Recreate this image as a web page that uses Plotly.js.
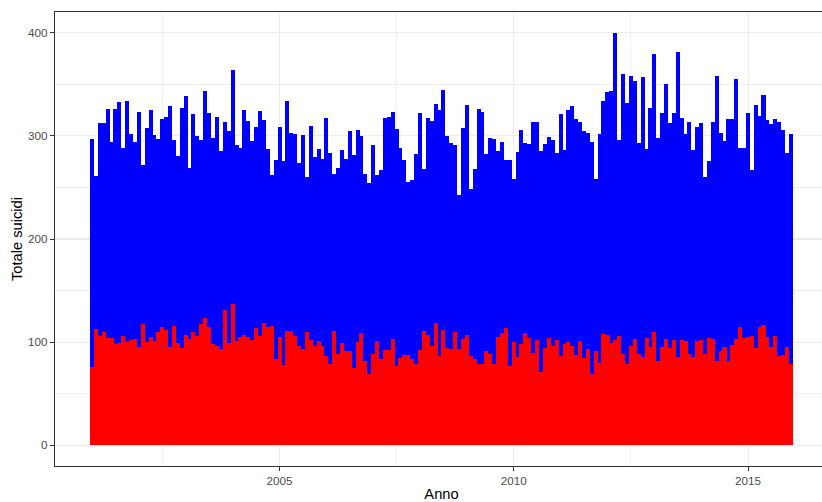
<!DOCTYPE html>
<html>
<head>
<meta charset="utf-8">
<script src="https://cdn.plot.ly/plotly-3.0.1.min.js"></script>
<style>
html,body{margin:0;padding:0;overflow:hidden;background:#fff;}
#chart{width:828px;height:502px;}
</style>
</head>
<body>
<div id="chart"></div>
<script>
// Monthly data, January 2001 .. December 2015
var startYear = 2001;
var endYear = 2015;

// Totale suicidi (blue)
var totale = [
297,261,312,312,326,294,326,333,288,334,302,294,
323,272,308,325,301,297,316,318,329,296,280,327,
339,269,321,300,296,343,322,298,318,285,313,305,
364,291,288,325,314,295,309,324,315,287,262,277,
309,276,334,303,302,274,301,260,310,279,287,278,
317,283,263,269,286,278,305,281,306,300,263,254,
291,262,267,317,318,323,307,288,277,255,257,282,
322,268,317,314,331,325,344,300,293,291,243,308,
330,248,268,326,323,282,298,297,285,294,277,277,
258,284,306,293,292,313,313,285,292,299,296,283,
321,286,325,329,316,313,305,303,294,258,302,334,
342,343,400,296,360,332,358,353,293,357,287,327,
379,298,322,350,312,322,381,317,302,313,286,309,
312,260,276,313,358,303,295,316,316,355,288,288,
322,267,330,319,340,315,311,316,313,306,283,302
];

// Subset (red)
var parziale = [
76,113,106,110,104,104,98,99,106,100,102,103,
95,118,100,105,101,110,115,112,95,116,99,94,
107,103,110,106,118,123,115,98,96,93,131,99,
137,101,105,107,105,102,114,106,119,115,116,84,
105,78,111,111,106,96,93,110,102,96,101,96,
87,79,111,89,99,91,91,75,100,109,82,69,
89,101,84,92,92,103,77,85,88,88,84,79,
92,111,107,96,119,87,112,94,93,110,93,103,
107,87,84,79,79,91,89,79,105,109,114,77,
100,86,98,109,104,90,102,71,94,104,96,102,
87,98,100,96,88,101,85,93,69,91,80,108,
107,99,102,106,89,79,96,103,89,86,104,95,
110,82,95,103,94,102,86,102,101,89,86,101,
102,89,104,103,82,91,95,82,97,103,115,104,
105,106,94,115,117,105,95,106,87,88,95,79
];

var mesi = [];
for (var y = startYear; y <= endYear; y++) {
  for (var m = 1; m <= 12; m++) {
    mesi.push(y + '-' + (m < 10 ? '0' + m : m) + '-01');
  }
}

var barMs = 31.6 * 24 * 3600 * 1000;
var font = "'Liberation Sans', Arial, Helvetica, sans-serif";

var traces = [
  {type: 'bar', x: mesi, y: totale, width: barMs,
   marker: {color: '#0000FF', line: {width: 0}}, name: 'Totale', hoverinfo: 'x+y'},
  {type: 'bar', x: mesi, y: parziale, width: barMs,
   marker: {color: '#FF0000', line: {width: 0}}, name: 'Parziale', hoverinfo: 'x+y'}
];

var layout = {
  width: 828, height: 502,
  margin: {l: 55, r: 0, t: 12, b: 36, pad: 0},
  paper_bgcolor: '#FFFFFF', plot_bgcolor: '#FFFFFF',
  barmode: 'overlay', bargap: 0,
  showlegend: false,
  font: {family: font, color: '#4D4D4D'},
  xaxis: {
    type: 'date',
    range: ['2000-03-17', '2016-09-15'],
    tickmode: 'array',
    tickvals: ['2005-01-01', '2010-01-01', '2015-01-01'],
    ticktext: ['2005', '2010', '2015'],
    ticks: 'outside', ticklen: 4, tickwidth: 1, tickcolor: '#333333',
    tickfont: {size: 11.7, color: '#4D4D4D', family: font},
    showgrid: true, gridcolor: '#EBEBEB', gridwidth: 1.07,
    minor: {tickmode: 'array', tickvals: ['2002-07-02', '2007-07-02', '2012-07-02'],
            showgrid: true, gridcolor: '#EBEBEB', gridwidth: 0.8, ticks: ''},
    showline: true, linecolor: '#333333', linewidth: 1.07, mirror: true,
    zeroline: false,
    title: {text: 'Anno', font: {size: 14.7, color: '#000000', family: font}, standoff: 4}
  },
  yaxis: {
    range: [-20, 420],
    tickmode: 'array',
    tickvals: [0, 100, 200, 300, 400],
    ticks: 'outside', ticklen: 4, tickwidth: 1, tickcolor: '#333333',
    tickfont: {size: 11.7, color: '#4D4D4D', family: font},
    showgrid: true, gridcolor: '#EBEBEB', gridwidth: 1.07,
    minor: {tickmode: 'array', tickvals: [50, 150, 250, 350],
            showgrid: true, gridcolor: '#EBEBEB', gridwidth: 0.8, ticks: ''},
    showline: true, linecolor: '#333333', linewidth: 1.07, mirror: true,
    zeroline: false,
    title: {text: 'Totale suicidi', font: {size: 14.7, color: '#000000', family: font}, standoff: 1}
  }
};

Plotly.newPlot('chart', traces, layout, {displayModeBar: false, staticPlot: true});
</script>
</body>
</html>
